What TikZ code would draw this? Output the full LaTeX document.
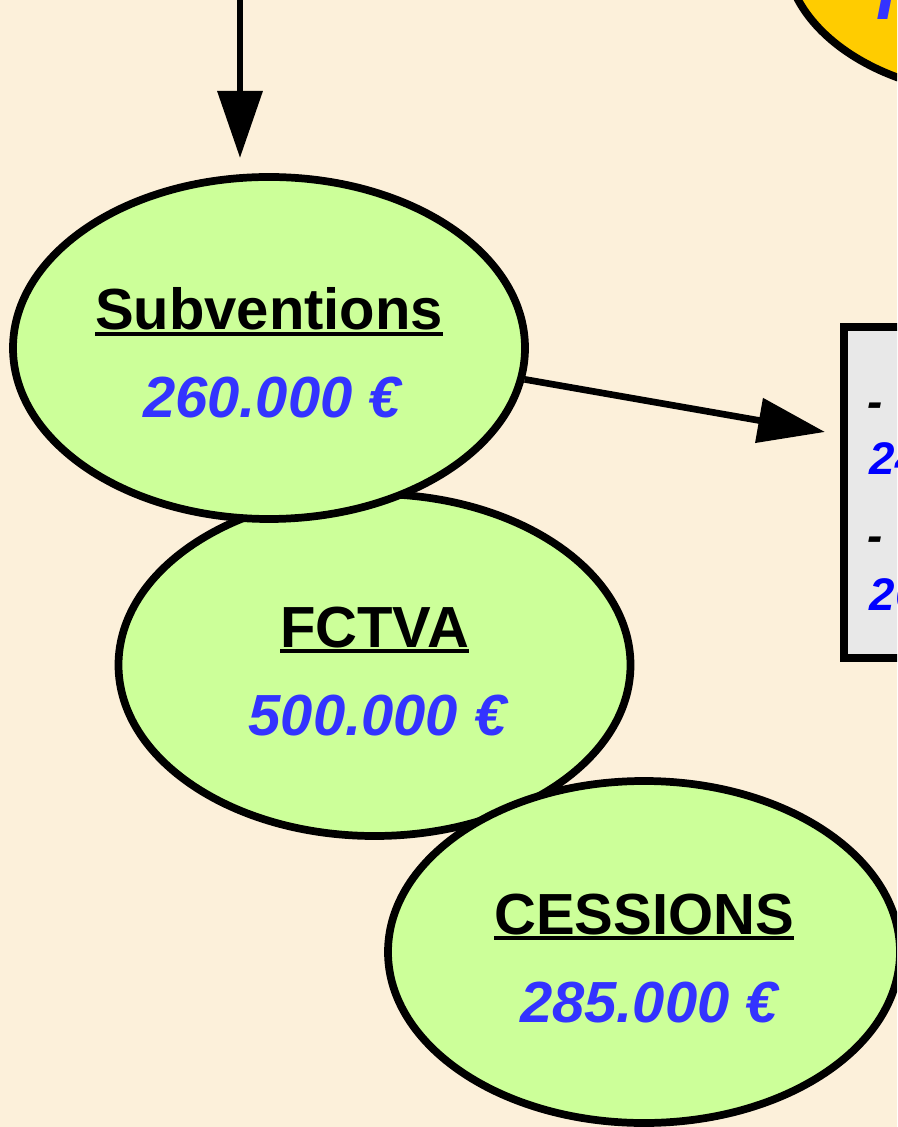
\documentclass[tikz,border=0pt]{standalone}
\usepackage{fontspec}
\setmainfont{Liberation Sans}
\usepackage{tikz}
\usetikzlibrary{shapes.geometric,arrows.meta}
\definecolor{parchemin}{RGB}{252,240,218}
\definecolor{vertclair}{RGB}{204,255,153}
\definecolor{jaune}{RGB}{255,204,0}
\definecolor{bleuval}{RGB}{51,51,255}
\definecolor{bleucadre}{RGB}{0,0,255}
\definecolor{grismarbre}{RGB}{232,232,232}
\newsavebox{\boitemot}
\newcommand{\souligne}[1]{\sbox{\boitemot}{#1}\rlap{\rule[-1.6pt]{\wd\boitemot}{1.1pt}}\usebox{\boitemot}}

\begin{document}
\begin{tikzpicture}[
    bulle/.style={ellipse,draw,line width=2.2pt,fill=vertclair,minimum width=5.12cm,minimum height=3.42cm,inner sep=0pt},
    titre/.style={anchor=base,inner sep=0pt,font=\fontsize{16.5}{18}\selectfont\bfseries},
    valeur/.style={anchor=base,inner sep=0pt,text=bleuval,font=\fontsize{16.5}{18}\selectfont\bfseries\itshape},
    ligne/.style={anchor=base west,inner sep=0pt,font=\fontsize{13}{15}\selectfont\bfseries\itshape},
    fleche/.style={line width=1.9pt,-{Triangle[length=6.7mm,width=4.4mm]}}]
      % fond
      \fill[parchemin] (0,0) rectangle (8.97,-11.27);
      \useasboundingbox (0,0) rectangle (8.97,-11.27);
      \clip (0,0) rectangle (8.97,-11.27);
      % bulle jaune (coin)
      \node[ellipse,draw,line width=2.2pt,fill=jaune,minimum width=4.3cm,minimum height=2.9cm] (jaune) at (10.0,0.5) {};
      \node[anchor=base west,inner sep=0pt,text=bleuval,font=\fontsize{20}{24}\selectfont\bfseries\itshape] (lettre) at (8.76,-0.20) {I};
      % cadre gris
      \node[draw,line width=2.3pt,fill=grismarbre,anchor=north west,minimum width=2cm,minimum height=3.31cm] (cadre) at (8.40,-3.23) {};
      \node[ligne] (tiret1) at (8.67,-4.18) {-};
      \node[ligne,text=bleucadre] (montant1) at (8.69,-4.75) {24};
      \node[ligne] (tiret2) at (8.67,-5.52) {-};
      \node[ligne,text=bleucadre] (montant2) at (8.69,-6.10) {26};
      % bulles vertes
      \node[bulle] (fctva) at (3.745,-6.65) {};
      \node[titre] (fctvaT) at ([yshift=0.18cm]fctva.center) {\souligne{FCTVA}};
      \node[valeur] (fctvaV) at ([yshift=-0.70cm,xshift=0.03cm]fctva.center) {500.000 €};
      \node[bulle] (sub) at (2.69,-3.48) {};
      \node[titre] (subT) at ([yshift=0.18cm]sub.center) {\souligne{Subventions}};
      \node[valeur] (subV) at ([yshift=-0.70cm,xshift=0.03cm]sub.center) {260.000 €};
      \node[bulle] (cess) at (6.44,-9.52) {};
      \node[titre] (cessT) at ([yshift=0.18cm]cess.center) {\souligne{CESSIONS}};
      \node[valeur] (cessV) at ([yshift=-0.70cm,xshift=0.05cm]cess.center) {285.000 €};
      % fleches
      \coordinate (entree) at (2.40,0.1);
      \coordinate (pointeA) at (2.40,-1.58);
      \coordinate (pointeB) at (8.25,-4.32);
      \draw[fleche] (entree) -- (pointeA);
      \draw[fleche] (sub.-7) -- (pointeB);
\end{tikzpicture}
\end{document}
